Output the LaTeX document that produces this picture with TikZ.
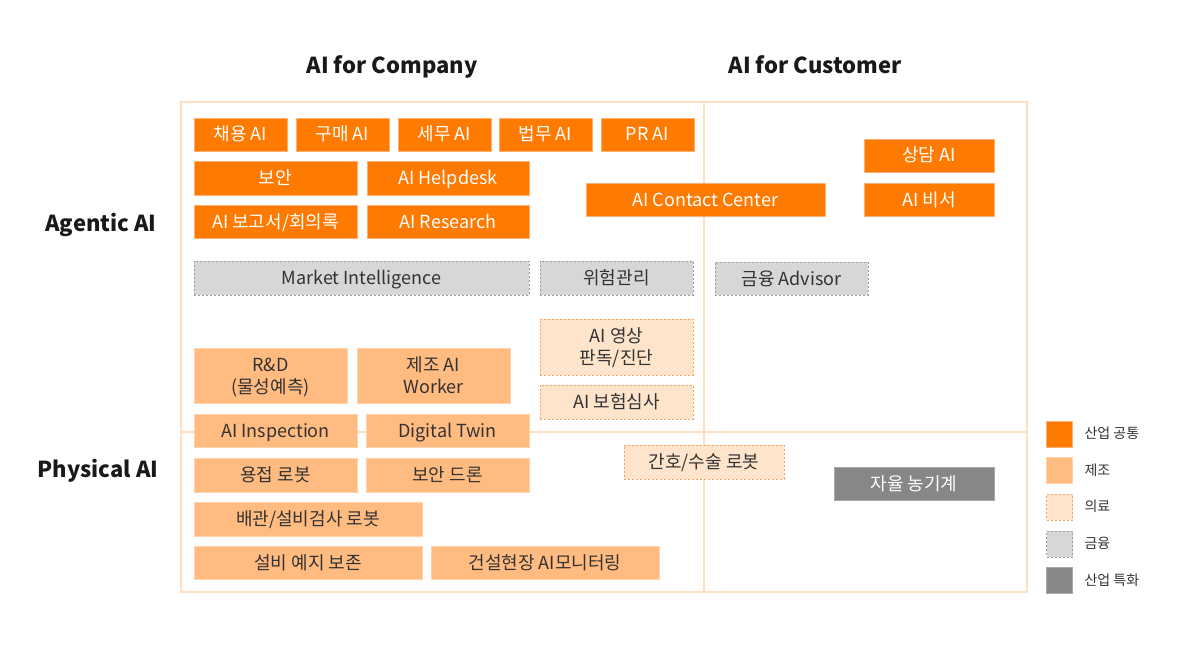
\documentclass[tikz,border=0pt]{standalone}
\usepackage{fontspec}
\setmainfont{Noto Sans CJK KR}
\usepackage{xcolor}
\usetikzlibrary{positioning}
\definecolor{orangeA}{HTML}{FF7A00}
\definecolor{orangeB}{HTML}{FFB070}
\definecolor{mfgfill}{HTML}{FFBB80}
\definecolor{mfgline}{HTML}{FFD2AA}
\definecolor{medfill}{HTML}{FFE4CC}
\definecolor{medline}{HTML}{F6A45E}
\definecolor{finfill}{HTML}{D7D7D7}
\definecolor{finline}{HTML}{9E9E9E}
\definecolor{specfill}{HTML}{878787}
\definecolor{specline}{HTML}{A9A9A9}
\definecolor{framec}{HTML}{FFDFC2}
\definecolor{darktext}{HTML}{333333}
\tikzset{
  corners/.style n args={4}{minimum width={(#3-#1)*1pt}, minimum height={(#4-#2)*1pt},
    at={({(#1+#3)/2},{(#2+#4)/2})}},
  cell/.style={inner sep=0pt, line width=0.8pt, text height=15pt, text depth=2pt,
    font=\fontsize{18}{22}\selectfont},
  twoline/.style={align=center, text height=37pt},
  common/.style={cell, fill=orangeA, draw=orangeB, text=white},
  mfg/.style={cell, fill=mfgfill, draw=mfgline, text=darktext},
  med/.style={cell, fill=medfill, draw=medline, dash pattern=on 2pt off 2pt, text=darktext},
  fin/.style={cell, fill=finfill, draw=finline, dash pattern=on 2pt off 2pt, text=darktext},
  spec/.style={cell, fill=specfill, draw=specline, text=white},
  frame/.style={draw=framec, line width=2pt},
  heading/.style={font=\bfseries\fontsize{22}{26}\selectfont, text=black!90,
    text height=18pt, text depth=2pt},
  legendtext/.style={font=\fontsize{14}{16}\selectfont, text=darktext, anchor=west,
    text height=11pt, text depth=2pt}
}

\begin{document}
\begin{tikzpicture}[x=1pt,y=-1pt]
  \useasboundingbox (0,0) rectangle (1200,650);
  % frame and quadrants
  \draw[frame] (181,102) rectangle (1027,592);
  \draw[frame] (704,102) -- (704,592);
  \draw[frame] (181,432) -- (1027,432);
  % headings
  \node[heading] (company) at (392,66) {AI for Company};
  \node[heading] (customer) at (815,66) {AI for Customer};
  \node[heading] (agentic) at (101,223) {Agentic AI};
  \node[heading] (physical) at (98,469) {Physical AI};
  % agentic, company side
  \node[common, corners={194}{118}{287}{151}] (chaeyong) {채용 AI};
  \node[common, corners={296}{118}{389}{151}] (gumae) {구매 AI};
  \node[common, corners={398}{118}{491}{151}] (semu) {세무 AI};
  \node[common, corners={499}{118}{592}{151}] (beopmu) {법무 AI};
  \node[common, corners={601}{118}{694}{151}] (prai) {PR AI};
  \node[common, corners={194}{161}{357}{195}] (boan) {보안};
  \node[common, corners={367}{161}{529}{195}] (helpdesk) {AI Helpdesk};
  \node[common, corners={194}{205}{357}{238}] (report) {AI 보고서/회의록};
  \node[common, corners={367}{205}{529}{238}] (research) {AI Research};
  \node[common, corners={586}{183}{825}{216}] (contact) {AI Contact Center};
  \node[fin, corners={194}{261}{529}{295}] (market) {Market Intelligence};
  \node[fin, corners={540}{261}{693}{295}] (risk) {위험관리};
  \node[med, twoline, corners={540}{319}{693}{375}] (imaging) {AI 영상\\판독/진단};
  \node[med, corners={540}{385}{693}{419}] (insurance) {AI 보험심사};
  % agentic, customer side
  \node[common, corners={864}{139}{994}{172}] (sangdam) {상담 AI};
  \node[common, corners={864}{183}{994}{216}] (biseo) {AI 비서};
  \node[fin, corners={715}{262}{868}{295}] (advisor) {금융 Advisor};
  % physical
  \node[mfg, twoline, corners={194}{348}{347}{403}] (rnd) {R\&D\\(물성예측)};
  \node[mfg, twoline, corners={357}{348}{510}{403}] (worker) {제조 AI\\Worker};
  \node[mfg, corners={194}{414}{357}{447}] (inspection) {AI Inspection};
  \node[mfg, corners={366}{414}{529}{447}] (twin) {Digital Twin};
  \node[mfg, corners={194}{458}{357}{492}] (welding) {용접 로봇};
  \node[mfg, corners={366}{458}{529}{492}] (drone) {보안 드론};
  \node[mfg, corners={194}{502}{422}{536}] (piping) {배관/설비검사 로봇};
  \node[mfg, corners={194}{546}{422}{579}] (maintenance) {설비 예지 보존};
  \node[mfg, corners={431}{546}{659}{579}] (construction) {건설현장 AI모니터링};
  \node[med, corners={624}{445}{784}{479}] (nursing) {간호/수술 로봇};
  \node[spec, corners={834}{467}{994}{500}] (tractor) {자율 농기계};
  % legend
  \foreach \sty [count=\i] in {common, mfg, med, fin, spec}
    \node[\sty, minimum width=26pt, minimum height=26pt] (leg\i) at (1059.5,397.3+36.7*\i) {};
  \foreach \lab [count=\i] in {산업 공통, 제조, 의료, 금융, 산업 특화}
    \node[legendtext] (legtext\i) at (1081,397.3+36.7*\i) {\lab};
\end{tikzpicture}
\end{document}
